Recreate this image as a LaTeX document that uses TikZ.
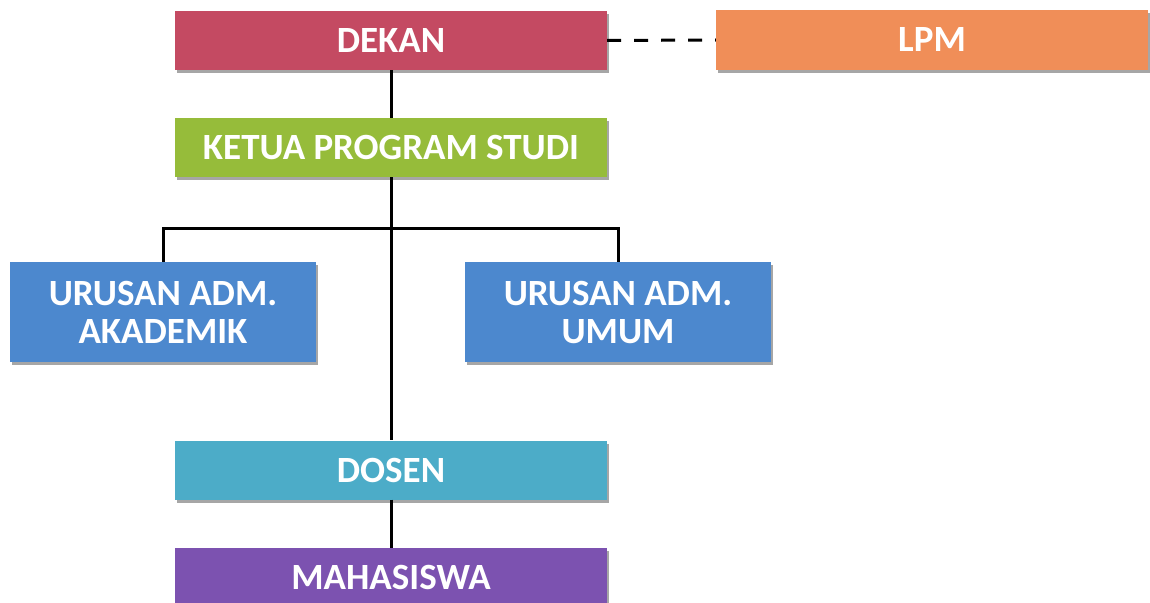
\documentclass[tikz,border=0pt]{standalone}
\usepackage{fontspec}
\setmainfont{Carlito}
\usetikzlibrary{shadows}
\definecolor{cDekan}{RGB}{196,74,98}
\definecolor{cLpm}{RGB}{240,142,88}
\definecolor{cKetua}{RGB}{150,188,58}
\definecolor{cUrusan}{RGB}{76,136,206}
\definecolor{cDosen}{RGB}{76,172,200}
\definecolor{cMhs}{RGB}{124,82,176}
\begin{document}
\begin{tikzpicture}[x=1pt,y=-1pt,
  orgbox/.style={draw=none, inner sep=0pt, align=center, text=white,
    font=\fontsize{37}{38}\selectfont\bfseries,
    drop shadow={shadow xshift=2pt, shadow yshift=-3pt, fill=black, opacity=0.35}},
  wide/.style={orgbox, minimum width=432pt, minimum height=59pt},
  half/.style={orgbox, minimum width=306pt, minimum height=100pt},
  link/.style={line width=3pt, black}]
\useasboundingbox (0,0) rectangle (1150,602);
\clip (0,0) rectangle (1150,602);
\node[wide, fill=cDekan] (dekan) at (391,40.5) {DEKAN};
\node[wide, fill=cLpm] (lpm) at (932,40) {LPM};
\node[wide, fill=cKetua] (ketua) at (391,147.5) {KETUA PROGRAM STUDI};
\node[half, fill=cUrusan] (aka) at (163,312) {URUSAN ADM.\\AKADEMIK};
\node[half, fill=cUrusan] (umum) at (618,312) {URUSAN ADM.\\UMUM};
\node[wide, fill=cDosen] (dosen) at (391,470) {DOSEN};
\node[wide, fill=cMhs] (mhs) at (391,577.5) {MAHASISWA};
\coordinate (bus) at (391,228);
\draw[link] (dekan.south) -- (ketua.north);
\draw[link] (ketua.south) -- (dosen.north);
\draw[link] (aka.north) |- (bus) -| (umum.north);
\draw[link] (dosen.south) -- (mhs.north);
\draw[link, dash pattern=on 14pt off 13pt] (dekan.east) -- (lpm.west);
\end{tikzpicture}
\end{document}
